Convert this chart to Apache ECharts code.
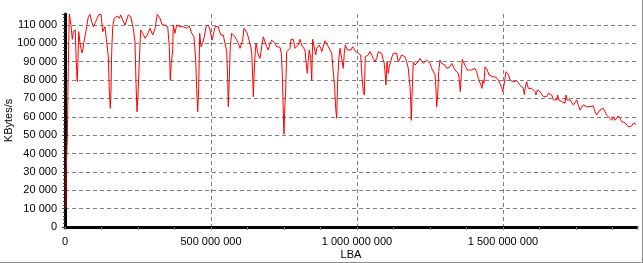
<!DOCTYPE html>
<html><head><meta charset="utf-8">
<script src="https://cdn.jsdelivr.net/npm/echarts@6/dist/echarts.min.js"></script>
<style>
html,body{margin:0;padding:0;background:#fff;}
#c{width:643px;height:263px;position:absolute;left:0;top:0;}
#frame{position:absolute;left:0;top:0;width:643px;height:263px;box-sizing:border-box;border-right:1px solid #8c8c8c;border-bottom:1px solid #8c8c8c;pointer-events:none;}
</style></head>
<body><div id="c"></div><div id="frame"></div>
<script>
// LBA position in millions of sectors
const lbaM = [3.4,3.4,7.9,11.3,14.7,20.5,25.0,28.4,33.2,35.3,37.7,40.1,42.1,44.5,46.9,51.4,55.8,59.2,65.1,69.5,74.3,79.8,85.6,91.4,96.9,102.7,108.6,115.4,123.3,129.1,137.0,142.8,148.3,151.7,155.1,157.5,159.9,163.4,168.8,174.7,179.1,186.0,190.8,197.6,205.5,216.8,225.0,233.9,239.7,243.2,246.6,250.0,254.5,259.2,266.1,274.0,281.9,291.1,300.3,308.2,316.1,325.3,333.2,342.5,351.7,357.2,360.6,364.0,368.8,370.9,376.7,382.5,393.8,405.1,416.8,425.7,433.9,441.8,447.6,451.0,454.5,457.9,461.3,465.8,471.6,477.1,482.9,490.8,496.6,503.4,507.9,513.7,519.5,525.0,
527.4,534.3,542.1,547.9,553.8,557.2,559.2,562.7,566.1,570.9,576.4,582.2,588.0,593.5,599.3,605.1,608.6,613.0,618.9,624.3,630.1,636.0,639.4,642.8,644.9,648.3,651.7,654.1,658.6,662.0,667.8,673.6,679.1,684.9,690.7,696.2,702.1,707.9,713.4,719.2,725.0,736.3,740.8,744.2,746.6,749.0,750.0,752.4,755.8,759.3,764.7,770.6,774.0,781.9,787.7,793.5,799.0,804.8,810.6,816.1,821.9,825.4,829.8,833.2,836.6,841.5,844.9,848.3,853.8,858.6,862.0,867.5,870.9,875.7,879.2,884.6,890.4,896.3,901.7,907.5,913.4,918.8,923.6,927.1,930.5,933.9,937.4,941.8,947.6,953.1,956.5,960.0,966.8,973.6,979.5,985.3,989.8,995.6,1004.5,1012.7,1017.1,1021.6,1025.0,1028.4,1033.2,1038.7,1044.5,1050.4,1055.9,1061.7,1067.5,1073.0,1078.8,1084.6,1088.0,1092.5,1095.9,1099.3,1102.8,1107.2,1110.6,1115.4,1119.9,1124.3,1130.2,1136.0,1141.5,1147.3,1153.1,1158.6,1164.4,1170.2,1175.7,1181.5,1183.9,1186.0,1188.4,1192.8,1198.6,1204.5,1210.0,1215.8,1221.6,1227.1,1232.9,1238.7,1244.2,1250.0,1255.8,1261.3,1267.1,1270.5,1272.9,1276.4,1279.8,1284.3,1290.1,1295.6,1301.4,1307.2,1312.7,1318.5,1324.3,1329.8,1335.6,1341.4,1346.9,1350.4,1353.8,1357.2,1360.6,1366.5,1372.3,1377.8,1384.6,1392.8,1398.3,1404.1,1409.9,1415.4,1421.2,1424.6,1428.1,1431.5,1434.9,1438.4,1441.8,1446.2,1452.1,1457.9,1463.4,1469.2,1476.0,1483.9,1489.7,1495.6,1499.0,1502.4,1506.9,1510.3,1514.8,1519.6,1524.0,1529.9,1535.4,1541.2,1547.0,1552.5,1558.3,1564.1,1569.6,1573.0,1577.8,1581.2,1586.7,1592.5,1598.4,1603.8,1609.7,1613.1,1617.5,1621.0,1626.7,1632.6,1638.1,1643.9,1649.7,1655.2,1658.6,1662.0,1666.9,1672.3,1678.1,1684.0,1687.4,1690.8,1695.2,1701.1,1706.6,1712.4,1715.8,1719.2,1723.7,1729.5,1735.3,1740.8,1746.6,1752.5,1757.9,1763.7,1769.6,1775.0,1780.8,1786.7,1792.2,1798.0,1803.8,1809.3,1815.1,1820.9,1826.4,1832.2,1838.0,1843.5,1849.3,1855.1,1860.6,1866.5,1872.3,1877.8,1883.6,1889.4,1894.9,1900.7,1906.5,1912.0,1917.8,1923.6,1929.1,1934.9,1940.8,1946.2,1952.1,1955.5];
// Transfer rate, KBytes/s
const kbps = [10000,29000,48000,87000,116000,110000,102200,106400,105700,107300,93700,84600,79100,91900,106400,100200,96400,94800,100900,104600,109100,114500,115800,111800,109100,110900,110000,115500,115800,106400,109100,110000,92700,74600,64600,73700,95500,109100,113700,112700,114900,113700,115500,112700,110000,115500,114500,108200,100900,78300,62800,71900,90000,107300,105500,102800,104600,108200,104600,108200,115800,113700,110000,110000,109100,98200,80000,89100,96400,110000,105500,110000,109100,109100,108200,109500,105500,103600,90900,75500,62800,75500,105500,98200,100000,103600,109100,110000,107300,101800,104600,109100,110000,109100,
107300,104500,104500,103600,95500,80000,65500,81000,98200,105500,104500,103600,102800,100000,97300,98200,101800,108200,108200,105500,101800,98200,94600,81900,71000,85500,95500,100000,96400,93700,91800,98200,103600,102800,98200,96400,100000,101800,102800,100000,98200,97900,94600,83700,69200,53700,50500,63700,74600,95500,96400,97300,102200,102200,97300,98200,99100,102200,99100,98200,96400,90000,83700,91000,96400,91800,80000,102200,102200,93700,97300,98200,99100,97300,95500,96400,101500,101000,98200,96400,94600,93700,75500,64600,59200,80000,91000,97300,91800,86400,94600,99100,96400,95500,96400,98200,97300,95500,94600,93700,81900,73700,71900,92700,91800,93700,95500,94600,91800,90000,91800,95500,96400,94600,91800,90000,84600,77300,90000,83700,87300,90000,92700,94600,95500,94600,90000,91000,93700,94600,92700,90000,86400,76400,69200,58100,71000,90000,88200,88200,90000,91800,91000,89100,89100,91000,91300,89100,86400,85500,82800,75500,65500,71900,84600,90900,89100,88200,88200,86400,86400,87300,89100,88200,85500,84600,83700,80000,73700,82800,91300,91000,87300,85500,84600,85500,86400,86400,84600,81000,80000,77300,75500,80000,78200,87300,88200,85500,82800,81900,81900,81900,81600,80000,78200,76100,73700,76400,81000,84600,85500,82800,80000,79100,79100,78200,79700,78600,77300,76400,75500,72200,77300,79100,75500,75500,75500,74600,73700,71900,74600,74600,73700,72800,71000,71000,71000,72800,73700,72200,71900,69200,69200,69200,71900,69200,68300,68300,67400,67400,71900,69200,69200,69200,68300,66500,65500,69200,66500,63700,64600,66500,66000,65500,64600,65500,64600,66000,62800,61000,61000,63700,64600,64600,62800,61000,60100,59200,58100,60100,58100,59200,60500,59200,57400,58100,56700,57400,54600,55500,55000,56500,56700,56000];

const xMaxM = 1959;
const yTicksStep = 10000;

const fmt = v => String(Math.round(v)).replace(/\B(?=(\d{3})+(?!\d))/g, ' ');
const data = lbaM.map((x, i) => [x * 1e6, kbps[i]]);
const font = {fontFamily: 'Liberation Sans, Arial, sans-serif', fontSize: 11, color: '#000'};

const chart = echarts.init(document.getElementById('c'), null, {renderer: 'canvas'});
chart.setOption({
  animation: false,
  backgroundColor: '#fff',
  grid: {left: 65, right: 6, top: 14, bottom: 36, containLabel: false, outerBoundsMode: 'none'},
  xAxis: {
    type: 'value', min: 0, max: xMaxM * 1e6, interval: 500e6,
    name: 'LBA', nameLocation: 'middle', nameGap: 22, nameMoveOverlap: false,
    nameTextStyle: font,
    axisLine: {onZero: false, lineStyle: {color: '#000', width: 3}},
    axisTick: {show: true, length: 3, lineStyle: {color: '#808080', width: 1}},
    minorTick: {show: true, splitNumber: 4, length: 3, lineStyle: {color: '#808080', width: 1}},
    axisLabel: Object.assign({margin: 9, showMaxLabel: false, formatter: fmt}, font),
    splitLine: {show: true, showMinLine: false, showMaxLine: false, lineStyle: {color: '#808080', type: [4, 3], width: 1}}
  },
  yAxis: {
    type: 'value', min: 0, max: 116000, interval: yTicksStep,
    name: 'KBytes/s', nameLocation: 'middle', nameGap: 51, nameRotate: 90, nameMoveOverlap: false,
    nameTextStyle: font,
    axisLine: {show: true, lineStyle: {color: '#000', width: 3}},
    axisTick: {show: true, length: 3, lineStyle: {color: '#404040', width: 1}},
    minorTick: {show: true, splitNumber: 5, length: 2, lineStyle: {color: '#404040', width: 1}},
    axisLabel: Object.assign({margin: 8, showMaxLabel: false, formatter: fmt}, font),
    splitLine: {show: true, showMinLine: false, showMaxLine: false, lineStyle: {color: '#808080', type: [4, 3], width: 1}}
  },
  series: [{
    type: 'line', data: data, showSymbol: false, symbol: 'none',
    lineStyle: {color: '#ff0000', width: 1}, z: 3
  }]
});
</script></body></html>
